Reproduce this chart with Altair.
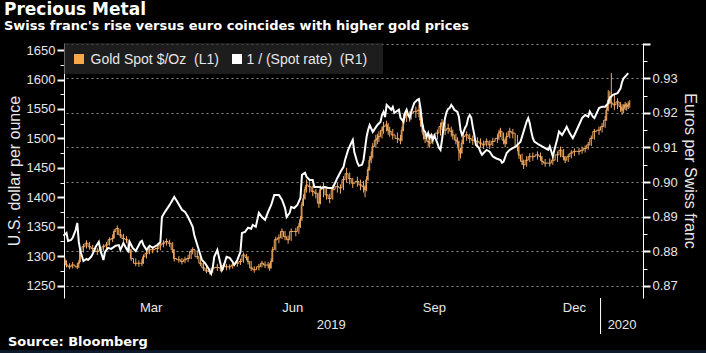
import altair as alt
import pandas as pd

# ---------------- data ----------------
gold_dates = [
    "2019-01-18", "2019-01-19", "2019-01-21", "2019-01-23", "2019-01-26", "2019-01-27", "2019-01-28", "2019-01-30",
    "2019-02-01", "2019-02-03", "2019-02-05", "2019-02-08", "2019-02-10", "2019-02-12", "2019-02-14", "2019-02-16", "2019-02-18", "2019-02-19", "2019-02-21", "2019-02-23", "2019-02-25", "2019-02-27",
    "2019-03-01", "2019-03-02", "2019-03-05", "2019-03-07", "2019-03-09", "2019-03-10", "2019-03-12", "2019-03-14", "2019-03-16", "2019-03-19", "2019-03-21", "2019-03-23", "2019-03-25", "2019-03-27", "2019-03-29", "2019-03-30",
    "2019-04-02", "2019-04-04", "2019-04-06", "2019-04-08", "2019-04-10", "2019-04-11", "2019-04-14", "2019-04-16", "2019-04-18", "2019-04-20", "2019-04-22", "2019-04-24", "2019-04-27", "2019-04-29",
    "2019-05-01", "2019-05-03", "2019-05-05", "2019-05-07", "2019-05-10", "2019-05-12", "2019-05-14", "2019-05-16", "2019-05-17", "2019-05-19", "2019-05-21", "2019-05-24", "2019-05-26", "2019-05-28", "2019-05-30", "2019-05-31",
    "2019-06-01", "2019-06-02", "2019-06-04", "2019-06-06", "2019-06-08", "2019-06-10", "2019-06-12", "2019-06-14", "2019-06-17", "2019-06-19", "2019-06-20", "2019-06-21", "2019-06-22", "2019-06-23", "2019-06-24", "2019-06-26", "2019-06-28", "2019-06-30",
    "2019-07-02", "2019-07-03", "2019-07-05", "2019-07-07", "2019-07-09", "2019-07-11", "2019-07-14", "2019-07-16", "2019-07-18", "2019-07-20", "2019-07-22", "2019-07-24", "2019-07-27", "2019-07-29", "2019-07-31",
    "2019-08-01", "2019-08-02", "2019-08-03", "2019-08-04", "2019-08-05", "2019-08-06", "2019-08-08", "2019-08-09", "2019-08-10", "2019-08-12", "2019-08-13", "2019-08-15", "2019-08-16", "2019-08-17", "2019-08-19", "2019-08-22", "2019-08-24", "2019-08-25", "2019-08-26", "2019-08-28", "2019-08-30", "2019-08-31",
    "2019-09-03", "2019-09-05", "2019-09-06", "2019-09-07", "2019-09-08", "2019-09-09", "2019-09-11", "2019-09-12", "2019-09-14", "2019-09-17", "2019-09-19", "2019-09-20", "2019-09-22", "2019-09-24", "2019-09-26", "2019-09-27", "2019-09-29", "2019-09-30",
    "2019-10-01", "2019-10-02", "2019-10-03", "2019-10-04", "2019-10-06", "2019-10-08", "2019-10-10", "2019-10-13", "2019-10-15", "2019-10-17", "2019-10-19", "2019-10-21", "2019-10-23", "2019-10-26", "2019-10-27", "2019-10-28", "2019-10-30", "2019-10-31",
    "2019-11-01", "2019-11-03", "2019-11-05", "2019-11-08", "2019-11-09", "2019-11-11", "2019-11-12", "2019-11-14", "2019-11-16", "2019-11-18", "2019-11-21", "2019-11-23", "2019-11-24", "2019-11-26", "2019-11-29",
    "2019-12-01", "2019-12-04", "2019-12-06", "2019-12-08", "2019-12-09", "2019-12-11", "2019-12-13", "2019-12-15", "2019-12-18", "2019-12-20", "2019-12-22", "2019-12-24", "2019-12-26", "2019-12-28", "2019-12-31",
    "2020-01-02", "2020-01-04", "2020-01-05", "2020-01-06", "2020-01-07", "2020-01-08", "2020-01-10", "2020-01-12", "2020-01-14", "2020-01-15", "2020-01-16", "2020-01-17", "2020-01-18", "2020-01-19", "2020-01-20",
]
gold_close = [
    1292, 1285, 1282, 1285, 1282, 1288, 1308, 1316,
    1322, 1316, 1313, 1308, 1311, 1316, 1319, 1328, 1330, 1342, 1347, 1336, 1330, 1328,
    1311, 1296, 1288, 1288, 1288, 1299, 1305, 1311, 1311, 1313, 1319, 1322, 1325, 1322, 1311, 1296,
    1294, 1291, 1294, 1296, 1308, 1311, 1299, 1288, 1280, 1275, 1274, 1280, 1281, 1280,
    1284, 1282, 1282, 1285, 1288, 1291, 1302, 1298, 1291, 1280, 1277, 1282, 1288, 1285, 1285, 1280,
    1291, 1311, 1328, 1331, 1342, 1333, 1328, 1342, 1342, 1350, 1362, 1387, 1398, 1413, 1421, 1418, 1410, 1407,
    1390, 1413, 1418, 1404, 1398, 1413, 1418, 1416, 1430, 1440, 1432, 1424, 1427, 1421, 1418,
    1413, 1430, 1447, 1463, 1469, 1486, 1497, 1500, 1503, 1514, 1520, 1523, 1514, 1512, 1506, 1500, 1497, 1514, 1534, 1540, 1537, 1543,
    1546, 1548, 1531, 1520, 1506, 1500, 1495, 1492, 1500, 1509, 1520, 1526, 1514, 1517, 1512, 1506, 1497, 1495,
    1480, 1475, 1492, 1503, 1506, 1500, 1497, 1495, 1492, 1489, 1495, 1489, 1495, 1500, 1509, 1512, 1497, 1492,
    1503, 1512, 1509, 1486, 1472, 1461, 1455, 1463, 1469, 1469, 1472, 1469, 1461, 1458, 1458,
    1463, 1472, 1480, 1469, 1463, 1469, 1475, 1478, 1478, 1480, 1483, 1489, 1500, 1512, 1514,
    1520, 1531, 1548, 1565, 1571, 1560, 1557, 1562, 1554, 1548, 1551, 1557, 1554, 1557, 1560,
]
gold_low = [
    1286, 1281, 1278, 1279, 1278, 1280, 1290, 1306,
    1313, 1311, 1308, 1302, 1305, 1309, 1312, 1318, 1324, 1330, 1336, 1331, 1325, 1322,
    1306, 1292, 1283, 1282, 1283, 1287, 1296, 1303, 1305, 1306, 1310, 1315, 1318, 1316, 1305, 1291,
    1289, 1286, 1288, 1290, 1295, 1303, 1295, 1283, 1275, 1271, 1269, 1272, 1275, 1274,
    1277, 1276, 1277, 1279, 1282, 1285, 1289, 1293, 1286, 1275, 1272, 1276, 1281, 1280, 1279, 1275,
    1279, 1290, 1310, 1322, 1329, 1327, 1321, 1326, 1334, 1338, 1348, 1360, 1385, 1396, 1408, 1408, 1402, 1398,
    1382, 1388, 1400, 1396, 1390, 1396, 1408, 1406, 1412, 1425, 1422, 1416, 1418, 1412, 1408,
    1400, 1410, 1428, 1445, 1458, 1466, 1484, 1490, 1494, 1500, 1508, 1512, 1506, 1503, 1498, 1492, 1490, 1495, 1512, 1528, 1528, 1532,
    1535, 1536, 1520, 1510, 1498, 1492, 1486, 1484, 1490, 1498, 1505, 1514, 1506, 1508, 1503, 1498, 1490, 1486,
    1462, 1466, 1474, 1490, 1496, 1492, 1489, 1487, 1484, 1482, 1486, 1482, 1487, 1492, 1497, 1502, 1490, 1485,
    1490, 1500, 1500, 1478, 1465, 1455, 1448, 1452, 1460, 1462, 1464, 1462, 1455, 1452, 1452,
    1455, 1460, 1468, 1463, 1458, 1460, 1466, 1470, 1472, 1474, 1476, 1481, 1487, 1498, 1506,
    1510, 1518, 1530, 1546, 1558, 1552, 1548, 1550, 1545, 1540, 1543, 1548, 1547, 1550, 1552,
]
gold_high = [
    1297, 1293, 1288, 1290, 1289, 1293, 1312, 1321,
    1327, 1324, 1319, 1314, 1316, 1320, 1324, 1332, 1337, 1346, 1352, 1346, 1338, 1334,
    1326, 1312, 1296, 1293, 1295, 1303, 1310, 1315, 1317, 1318, 1324, 1327, 1330, 1328, 1324, 1312,
    1300, 1297, 1299, 1302, 1312, 1315, 1310, 1300, 1289, 1282, 1279, 1284, 1287, 1285,
    1288, 1287, 1286, 1290, 1293, 1296, 1306, 1304, 1300, 1292, 1283, 1287, 1292, 1291, 1290, 1288,
    1296, 1316, 1333, 1337, 1347, 1343, 1335, 1347, 1348, 1356, 1368, 1392, 1405, 1418, 1430, 1427, 1420, 1414,
    1408, 1420, 1425, 1418, 1406, 1420, 1425, 1422, 1436, 1450, 1442, 1433, 1435, 1430, 1428,
    1420, 1436, 1452, 1470, 1478, 1492, 1506, 1508, 1512, 1520, 1528, 1530, 1526, 1520, 1516, 1510, 1506, 1520, 1542, 1548, 1546, 1550,
    1554, 1557, 1550, 1534, 1522, 1510, 1504, 1500, 1507, 1515, 1527, 1533, 1528, 1525, 1520, 1515, 1508, 1502,
    1496, 1484, 1498, 1510, 1512, 1508, 1505, 1502, 1500, 1496, 1500, 1497, 1501, 1507, 1515, 1518, 1510, 1500,
    1510, 1518, 1516, 1506, 1488, 1474, 1464, 1470, 1475, 1476, 1478, 1476, 1470, 1465, 1466,
    1468, 1478, 1486, 1482, 1470, 1474, 1480, 1483, 1484, 1486, 1488, 1494, 1505, 1516, 1520,
    1526, 1538, 1555, 1582, 1580, 1611, 1574, 1568, 1562, 1558, 1558, 1562, 1560, 1563, 1565,
]

chf_dates = [
    "2019-01-17", "2019-01-19", "2019-01-20", "2019-01-22", "2019-01-23", "2019-01-25", "2019-01-26", "2019-01-27", "2019-01-28", "2019-01-30",
    "2019-02-01", "2019-02-02", "2019-02-04", "2019-02-05", "2019-02-07", "2019-02-09", "2019-02-10", "2019-02-12", "2019-02-13", "2019-02-15", "2019-02-17", "2019-02-20", "2019-02-22", "2019-02-23", "2019-02-25", "2019-02-27", "2019-02-28",
    "2019-03-01", "2019-03-03", "2019-03-05", "2019-03-08", "2019-03-09", "2019-03-10", "2019-03-12", "2019-03-14", "2019-03-16", "2019-03-19", "2019-03-21", "2019-03-22", "2019-03-24", "2019-03-27", "2019-03-30",
    "2019-04-01", "2019-04-04", "2019-04-06", "2019-04-08", "2019-04-11", "2019-04-12", "2019-04-14", "2019-04-17", "2019-04-19", "2019-04-21", "2019-04-23", "2019-04-24", "2019-04-25", "2019-04-27", "2019-04-28", "2019-04-30",
    "2019-05-01", "2019-05-03", "2019-05-05", "2019-05-07", "2019-05-08", "2019-05-10", "2019-05-12", "2019-05-13", "2019-05-15", "2019-05-17", "2019-05-19", "2019-05-20", "2019-05-22", "2019-05-24", "2019-05-26", "2019-05-28", "2019-05-30",
    "2019-06-01", "2019-06-03", "2019-06-06", "2019-06-08", "2019-06-10", "2019-06-11", "2019-06-13", "2019-06-14", "2019-06-16", "2019-06-18", "2019-06-20", "2019-06-21", "2019-06-23", "2019-06-24", "2019-06-26", "2019-06-28", "2019-06-29",
    "2019-07-02", "2019-07-04", "2019-07-06", "2019-07-08", "2019-07-11", "2019-07-14", "2019-07-16", "2019-07-18", "2019-07-19", "2019-07-21", "2019-07-23", "2019-07-24", "2019-07-25", "2019-07-27", "2019-07-28", "2019-07-30", "2019-07-31",
    "2019-08-02", "2019-08-03", "2019-08-04", "2019-08-06", "2019-08-09", "2019-08-11", "2019-08-12", "2019-08-13", "2019-08-14", "2019-08-15", "2019-08-17", "2019-08-18", "2019-08-19", "2019-08-20", "2019-08-23", "2019-08-24", "2019-08-26", "2019-08-27", "2019-08-28", "2019-08-29", "2019-08-30", "2019-08-31",
    "2019-09-01", "2019-09-02", "2019-09-04", "2019-09-05", "2019-09-06", "2019-09-07", "2019-09-08", "2019-09-09", "2019-09-10", "2019-09-11", "2019-09-12", "2019-09-13", "2019-09-14", "2019-09-15", "2019-09-17", "2019-09-18", "2019-09-19", "2019-09-20", "2019-09-21", "2019-09-22", "2019-09-23", "2019-09-24", "2019-09-25", "2019-09-26", "2019-09-27", "2019-09-28", "2019-09-30",
    "2019-10-01", "2019-10-02", "2019-10-03", "2019-10-04", "2019-10-05", "2019-10-06", "2019-10-07", "2019-10-08", "2019-10-09", "2019-10-10", "2019-10-11", "2019-10-12", "2019-10-14", "2019-10-15", "2019-10-16", "2019-10-17", "2019-10-19", "2019-10-21", "2019-10-23", "2019-10-25", "2019-10-28", "2019-10-29", "2019-10-30",
    "2019-11-01", "2019-11-03", "2019-11-05", "2019-11-07", "2019-11-10", "2019-11-12", "2019-11-14", "2019-11-15", "2019-11-16", "2019-11-17", "2019-11-18", "2019-11-19", "2019-11-22", "2019-11-24", "2019-11-26", "2019-11-28", "2019-11-29",
    "2019-12-01", "2019-12-02", "2019-12-04", "2019-12-05", "2019-12-07", "2019-12-09", "2019-12-10", "2019-12-12", "2019-12-14", "2019-12-15", "2019-12-18", "2019-12-20", "2019-12-22", "2019-12-24", "2019-12-25", "2019-12-27", "2019-12-28", "2019-12-31",
    "2020-01-02", "2020-01-04", "2020-01-06", "2020-01-07", "2020-01-09", "2020-01-12", "2020-01-14", "2020-01-15", "2020-01-16", "2020-01-18", "2020-01-19",
]
chf_value = [
    0.8845, 0.8853, 0.8830, 0.8833, 0.8839, 0.8862, 0.8882, 0.8827, 0.8801, 0.8772,
    0.8778, 0.8775, 0.8784, 0.8792, 0.8813, 0.8827, 0.8804, 0.8775, 0.8798, 0.8810, 0.8807, 0.8816, 0.8818, 0.8804, 0.8824, 0.8807, 0.8801,
    0.8827, 0.8810, 0.8801, 0.8827, 0.8830, 0.8818, 0.8804, 0.8816, 0.8810, 0.8818, 0.8827, 0.8899, 0.8914, 0.8934, 0.8957,
    0.8943, 0.8920, 0.8914, 0.8899, 0.8871, 0.8847, 0.8818, 0.8775, 0.8766, 0.8752, 0.8735, 0.8752, 0.8784, 0.8804, 0.8784, 0.8746,
    0.8755, 0.8784, 0.8781, 0.8769, 0.8761, 0.8775, 0.8798, 0.8853, 0.8856, 0.8868, 0.8865, 0.8876, 0.8871, 0.8911, 0.8899, 0.8891, 0.8914,
    0.8934, 0.8963, 0.8963, 0.8949, 0.8925, 0.8899, 0.8911, 0.8928, 0.8925, 0.8934, 0.8954, 0.9021, 0.9027, 0.9015, 0.9006, 0.9006, 0.8986,
    0.8986, 0.8983, 0.8986, 0.8983, 0.8983, 0.9012, 0.9029, 0.9044, 0.9064, 0.9093, 0.9113, 0.9122, 0.9087, 0.9056, 0.9047, 0.9050, 0.9064,
    0.9131, 0.9151, 0.9165, 0.9145, 0.9165, 0.9174, 0.9194, 0.9203, 0.9188, 0.9223, 0.9214, 0.9209, 0.9217, 0.9200, 0.9209, 0.9186, 0.9174, 0.9200, 0.9209, 0.9194, 0.9186, 0.9203,
    0.9217, 0.9229, 0.9238, 0.9240, 0.9214, 0.9174, 0.9151, 0.9145, 0.9131, 0.9142, 0.9128, 0.9136, 0.9122, 0.9134, 0.9113, 0.9099, 0.9093, 0.9122, 0.9159, 0.9186, 0.9203, 0.9212, 0.9214, 0.9223, 0.9217, 0.9209, 0.9203,
    0.9188, 0.9151, 0.9136, 0.9145, 0.9157, 0.9165, 0.9186, 0.9194, 0.9186, 0.9159, 0.9136, 0.9108, 0.9099, 0.9087, 0.9079, 0.9084, 0.9093, 0.9088, 0.9074, 0.9069, 0.9064, 0.9056, 0.9059,
    0.9084, 0.9093, 0.9098, 0.9103, 0.9117, 0.9146, 0.9175, 0.9185, 0.9170, 0.9146, 0.9127, 0.9117, 0.9108, 0.9103, 0.9098, 0.9093, 0.9103,
    0.9074, 0.9093, 0.9127, 0.9146, 0.9136, 0.9151, 0.9160, 0.9141, 0.9127, 0.9136, 0.9165, 0.9185, 0.9194, 0.9189, 0.9204, 0.9189, 0.9185, 0.9214,
    0.9218, 0.9218, 0.9228, 0.9243, 0.9252, 0.9257, 0.9271, 0.9290, 0.9300, 0.9310, 0.9315,
]

month_tick_dates = ["2019-02-01", "2019-03-01", "2019-04-01", "2019-05-01", "2019-06-01", "2019-07-01",
                    "2019-08-01", "2019-09-01", "2019-10-01", "2019-11-01", "2019-12-01", "2020-01-01"]
month_label_dates = ["2019-03-15", "2019-06-15", "2019-09-15", "2019-12-15"]
month_labels = ["Mar", "Jun", "Sep", "Dec"]
year_label_dates = ["2019-07-10", "2020-01-15"]
year_labels = ["2019", "2020"]
year_break = ["2020-01-01"]
x_domain = ["2019-01-17 09:00", "2020-01-28 14:00"]

left_ticks = [1250, 1275, 1300, 1325, 1350, 1375, 1400, 1425, 1450, 1475, 1500,
              1525, 1550, 1575, 1600, 1625, 1650]
left_domain = [1229, 1662]
right_ticks = [0.870, 0.875, 0.880, 0.885, 0.890, 0.895, 0.900, 0.905, 0.910,
               0.915, 0.920, 0.925, 0.930, 0.935, 0.940]
right_domain = [0.8665, 0.9402]

TITLE = "Precious Metal"
SUBTITLE = "Swiss franc's rise versus euro coincides with higher gold prices"
SOURCE = "Source: Bloomberg"
LEG_GOLD = "Gold Spot $/Oz\u00a0\u00a0(L1)"
LEG_CHF = "1 / (Spot rate)\u00a0\u00a0(R1)"

# ---------------- styling ----------------
ORANGE = "#f3aa62"
TXT = "#e6e6e6"
GRID = "#8a8a8a"
FONT = "Liberation Sans"
BOLD_FONT = "DejaVu Sans"


def ms(s):
    return int(pd.Timestamp(s, tz="UTC").value // 10**6)


gold_df = pd.DataFrame({"date": gold_dates, "close": gold_close, "low": gold_low, "high": gold_high})
chf_df = pd.DataFrame({"date": chf_dates, "value": chf_value})
one = pd.DataFrame({"k": [0]})

x_scale = alt.Scale(type="utc", domain=[ms(d) for d in x_domain], nice=False)
quarter = "utcmonth(datum.value) % 3 == 0"
x_axis = alt.Axis(
    values=[ms(d) for d in month_tick_dates], labels=False, title=None,
    tickColor="white", domainColor="white",
    tickSize={"condition": {"test": quarter, "value": 8}, "value": 5},
    grid=True, gridColor=GRID, gridDash=[2, 3],
    gridOpacity={"condition": {"test": quarter, "value": 1}, "value": 0},
)

major_l = "datum.value % 50 == 0"
left_axis = alt.Axis(
    orient="left", values=left_ticks, grid=False, labelOverlap=False,
    labelExpr="datum.value % 50 == 0 ? format(datum.value, 'd') : ''",
    tickSize={"condition": {"test": major_l, "value": 7}, "value": 4},
    tickWidth={"condition": {"test": major_l, "value": 2}, "value": 1},
    labelPadding=2, title="U.S. dollar per ounce", titlePadding=4,
)

major_r = "abs(datum.value * 100 - round(datum.value * 100)) < 0.01"
right_axis = alt.Axis(
    orient="right", values=right_ticks, labelOverlap=False,
    labelExpr=f"({major_r}) && datum.value < 0.935 ? format(datum.value, '.2f') : ''",
    tickSize={"condition": {"test": major_r, "value": 7}, "value": 4},
    tickWidth={"condition": {"test": major_r, "value": 2}, "value": 1},
    grid=True, gridColor=GRID, gridDash=[2, 3],
    gridOpacity={"condition": {"test": major_r, "value": 1}, "value": 0},
    labelPadding=2, title="Euros per Swiss franc", titlePadding=4,
)

gold_y = alt.Scale(domain=left_domain, nice=False, zero=False)
gold_rules = alt.Chart(gold_df).mark_rule(color=ORANGE, strokeWidth=1).encode(
    x=alt.X("date:T", scale=x_scale, axis=None),
    y=alt.Y("low:Q", scale=gold_y, axis=left_axis),
    y2="high:Q",
)
gold_steps = alt.Chart(gold_df).mark_line(color=ORANGE, strokeWidth=1, interpolate="step").encode(
    x=alt.X("date:T", scale=x_scale, axis=x_axis),
    y=alt.Y("close:Q", scale=gold_y, axis=left_axis),
)
gold = alt.layer(gold_rules, gold_steps)

chf_line = alt.Chart(chf_df).mark_line(color="white", strokeWidth=2).encode(
    x=alt.X("date:T", scale=x_scale, axis=None),
    y=alt.Y("value:Q", scale=alt.Scale(domain=right_domain, nice=False, zero=False), axis=right_axis),
)

# legend
legend_box = alt.Chart(one).mark_rect(fill="#2a2a2a", opacity=0.7).encode(
    x=alt.value(0), x2=alt.value(319), y=alt.value(0), y2=alt.value(31))
leg_sq1 = alt.Chart(one).mark_rect(fill="#f7a84b").encode(
    x=alt.value(10), x2=alt.value(20), y=alt.value(11), y2=alt.value(21))
leg_sq2 = alt.Chart(one).mark_rect(fill="white").encode(
    x=alt.value(168), x2=alt.value(178), y=alt.value(11), y2=alt.value(21))
leg_t1 = alt.Chart(one).mark_text(text=LEG_GOLD, align="left", baseline="alphabetic",
                                  font=FONT, fontSize=14, color=TXT).encode(x=alt.value(26.5), y=alt.value(20.5))
leg_t2 = alt.Chart(one).mark_text(text=LEG_CHF, align="left", baseline="alphabetic",
                                  font=FONT, fontSize=14, color=TXT).encode(x=alt.value(182.5), y=alt.value(20.5))

# x labels
month_text = alt.Chart(pd.DataFrame({"date": month_label_dates, "label": month_labels})).mark_text(
    font=FONT, fontSize=13, color=TXT, baseline="middle").encode(
    x=alt.X("date:T", scale=x_scale, axis=None), y=alt.value(265), text="label:N")
year_text = alt.Chart(pd.DataFrame({"date": year_label_dates, "label": year_labels})).mark_text(
    font=FONT, fontSize=13, color=TXT, baseline="middle").encode(
    x=alt.X("date:T", scale=x_scale, axis=None), y=alt.value(282), text="label:N")
year_sep = alt.Chart(pd.DataFrame({"date": year_break})).mark_rule(color="white", strokeWidth=1).encode(
    x=alt.X("date:T", scale=x_scale, axis=None), y=alt.value(255), y2=alt.value(291))

# titles & source
title_t = alt.Chart(one).mark_text(text=TITLE, align="left", baseline="alphabetic", font=BOLD_FONT,
                                   fontWeight="bold", fontSize=17, color="white").encode(
    x=alt.value(-60), y=alt.value(-28))
subtitle_t = alt.Chart(one).mark_text(text=SUBTITLE, align="left", baseline="alphabetic", font=BOLD_FONT,
                                      fontWeight="bold", fontSize=13, color="white").encode(
    x=alt.value(-60), y=alt.value(-13))
source_t = alt.Chart(one).mark_text(text=SOURCE, align="left", baseline="alphabetic", font=BOLD_FONT,
                                    fontWeight="bold", fontSize=13, color="white").encode(
    x=alt.value(-56), y=alt.value(303))
bottom_strip = alt.Chart(one).mark_rect(fill="#0c1a2c").encode(
    x=alt.value(-64), x2=alt.value(642), y=alt.value(307), y2=alt.value(310))

chart = alt.layer(
    legend_box, gold, chf_line, leg_sq1, leg_sq2, leg_t1, leg_t2,
    month_text, year_text, year_sep, title_t, subtitle_t, source_t, bottom_strip,
).resolve_scale(y="independent").properties(
    width=579, height=255,
    padding={"left": 64, "top": 43, "right": 63, "bottom": 55},
    autosize=alt.AutoSizeParams(type="none"),
    background="black",
).configure_view(strokeWidth=0).configure_axis(
    labelColor=TXT, titleColor=TXT, labelFont=FONT, titleFont=FONT,
    labelFontSize=13, titleFontSize=16, titleFontWeight="normal",
    domainColor="white", tickColor="white",
)

chart.save("out.html", embed_options={"renderer": "svg", "actions": False})
